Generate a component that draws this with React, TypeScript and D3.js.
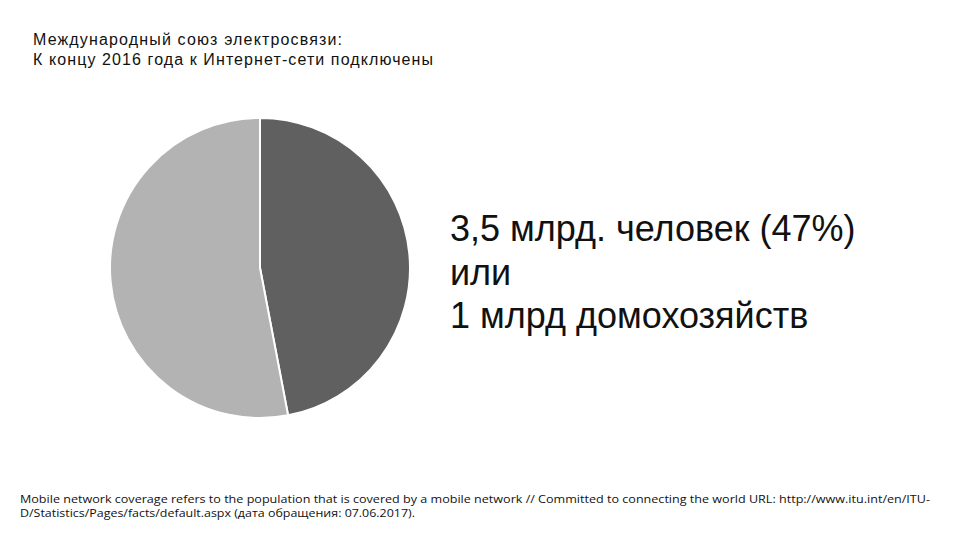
import React from "react";
import * as d3 from "d3";

const categories = ["Подключены", "Не подключены"];
const values = [47, 53];
const colors = ["#606060", "#b3b3b3"];
const titleLines = ["Международный союз электросвязи:", "К концу 2016 года к Интернет-сети подключены"];
const calloutLines = ["3,5 млрд. человек (47%)", "или", "1 млрд домохозяйств"];
const footerLines = [
  "Mobile network coverage refers to the population that is covered by a mobile network // Committed to connecting the world URL: http://www.itu.int/en/ITU-",
  "D/Statistics/Pages/facts/default.aspx (дата обращения: 07.06.2017).",
];

export default function App() {
  const cx = 260, cy = 268, r = 150;
  const pie = d3.pie<number>().sort(null).value((d) => d)(values);
  const arc = d3.arc<d3.PieArcDatum<number>>().innerRadius(0).outerRadius(r);
  return (
    <svg width={960} height={540} style={{ position: "absolute", left: 0, top: 0, background: "#fff" }}>
      <rect width={960} height={540} fill="#fff" />
      <g fontFamily="'Liberation Sans', Arial, sans-serif" fontSize={16} fill="#111">
        <text x={33} y={45} textLength={309} lengthAdjust="spacing">{titleLines[0]}</text>
        <text x={33} y={65} textLength={400} lengthAdjust="spacing">{titleLines[1]}</text>
      </g>
      <g transform={`translate(${cx},${cy})`}>
        {pie.map((p, i) => (
          <path key={categories[i]} d={arc(p) || ""} fill={colors[i]} stroke="#fff" strokeWidth={2} />
        ))}
      </g>
      <g fontFamily="'Liberation Sans', Arial, sans-serif" fontSize={36} fill="#111">
        {calloutLines.map((t, i) => (
          <text key={i} x={450} y={241 + i * 43.5}>{t}</text>
        ))}
      </g>
      <g fontFamily="'Open Sans', sans-serif" fontSize={11.5} fill="#111">
        <text x={20} y={503} textLength={910} lengthAdjust="spacingAndGlyphs">{footerLines[0]}</text>
        <text x={20} y={517} textLength={395} lengthAdjust="spacingAndGlyphs">{footerLines[1]}</text>
      </g>
    </svg>
  );
}
